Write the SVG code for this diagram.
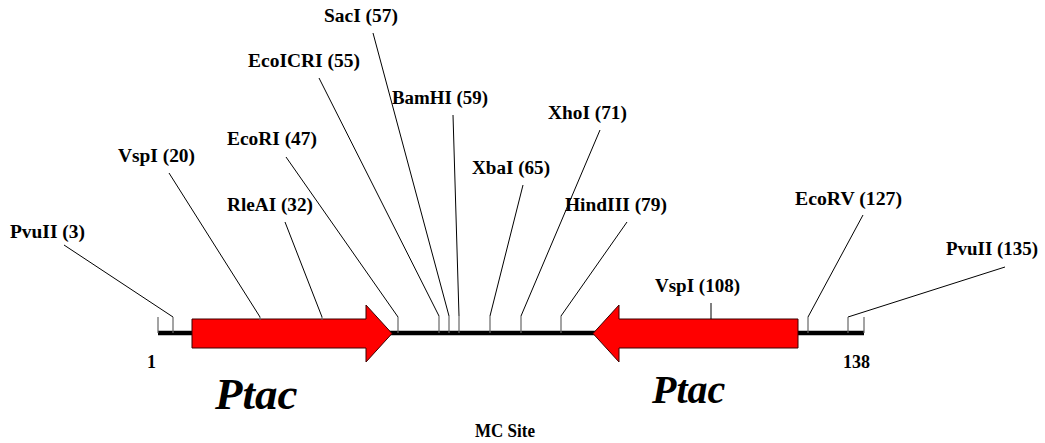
<svg xmlns="http://www.w3.org/2000/svg" width="1045" height="443" viewBox="0 0 1045 443">
<style>
.lbl{font-family:"Liberation Serif","Times New Roman",serif;font-weight:bold;font-size:18px;fill:#000}
.ptac{font-family:"Liberation Serif","Times New Roman",serif;font-weight:bold;font-style:italic;fill:#000}
.conn{fill:none;stroke:#000;stroke-width:1}
.tick{fill:none;stroke:#666;stroke-width:1.2}
.arrow{fill:#ff0000;stroke:#3a0000;stroke-width:1}
</style>
<rect width="1045" height="443" fill="#fff"/>
<g id="backbone">
<line x1="158" y1="333" x2="864" y2="333" stroke="#000" stroke-width="4.5"/>
<line class="tick" x1="158" y1="317" x2="158" y2="333"/>
<line class="tick" x1="864" y1="317" x2="864" y2="333"/>
</g>
<g id="ptac-left">
<polygon class="arrow" points="192,319 366,319 366,305 392,333.5 366,362 366,348 192,348"/>
<text class="ptac" x="215" y="409" font-size="45">Ptac</text>
</g>
<g id="ptac-right">
<polygon class="arrow" points="798,319 619,319 619,305 593,333.5 619,362 619,348 798,348"/>
<text class="ptac" x="652" y="403" font-size="40">Ptac</text>
</g>
<g id="connectors">
<polyline class="conn" points="64,245 173,317"/><line class="tick" x1="173" y1="317" x2="173" y2="333"/>
<polyline class="conn" points="169,173 260,317"/><line class="tick" x1="260" y1="317" x2="260" y2="320"/>
<polyline class="conn" points="285,222 322,317"/><line class="tick" x1="322" y1="317" x2="322" y2="320"/>
<polyline class="conn" points="286,157 398,317"/><line class="tick" x1="398" y1="317" x2="398" y2="333"/>
<polyline class="conn" points="319,78 439,316"/><line class="tick" x1="439" y1="316" x2="439" y2="333"/>
<polyline class="conn" points="373,33 449,316"/><line class="tick" x1="449" y1="316" x2="449" y2="333"/>
<polyline class="conn" points="453,115 459,316"/><line class="tick" x1="459" y1="316" x2="459" y2="333"/>
<polyline class="conn" points="523,185 490,316"/><line class="tick" x1="490" y1="316" x2="490" y2="333"/>
<polyline class="conn" points="600,130 521,316"/><line class="tick" x1="521" y1="316" x2="521" y2="333"/>
<polyline class="conn" points="627,222 561,316"/><line class="tick" x1="561" y1="316" x2="561" y2="333"/>
<polyline class="conn" points="711,303 711,319"/>
<polyline class="conn" points="863,215 808,317"/><line class="tick" x1="808" y1="317" x2="808" y2="333"/>
<polyline class="conn" points="1005,267 848,317"/><line class="tick" x1="848" y1="317" x2="848" y2="333"/>
</g>
<g id="site-pvuII-3"><text class="lbl" x="10" y="238" textLength="75" lengthAdjust="spacingAndGlyphs">PvuII (3)</text></g>
<g id="site-vspI-20"><text class="lbl" x="118" y="162" textLength="77" lengthAdjust="spacingAndGlyphs">VspI (20)</text></g>
<g id="site-rleAI-32"><text class="lbl" x="227" y="211" textLength="86" lengthAdjust="spacingAndGlyphs">RleAI (32)</text></g>
<g id="site-ecoRI-47"><text class="lbl" x="227" y="145" textLength="90" lengthAdjust="spacingAndGlyphs">EcoRI (47)</text></g>
<g id="site-ecoICRI-55"><text class="lbl" x="248" y="67" textLength="112" lengthAdjust="spacingAndGlyphs">EcoICRI (55)</text></g>
<g id="site-sacI-57"><text class="lbl" x="324" y="22" textLength="74" lengthAdjust="spacingAndGlyphs">SacI (57)</text></g>
<g id="site-bamHI-59"><text class="lbl" x="392" y="104" textLength="96" lengthAdjust="spacingAndGlyphs">BamHI (59)</text></g>
<g id="site-xbaI-65"><text class="lbl" x="472" y="174" textLength="78" lengthAdjust="spacingAndGlyphs">XbaI (65)</text></g>
<g id="site-xhoI-71"><text class="lbl" x="548" y="119" textLength="79" lengthAdjust="spacingAndGlyphs">XhoI (71)</text></g>
<g id="site-hindIII-79"><text class="lbl" x="565" y="211" textLength="102" lengthAdjust="spacingAndGlyphs">HindIII (79)</text></g>
<g id="site-vspI-108"><text class="lbl" x="655" y="292" textLength="85" lengthAdjust="spacingAndGlyphs">VspI (108)</text></g>
<g id="site-ecoRV-127"><text class="lbl" x="795" y="205" textLength="107" lengthAdjust="spacingAndGlyphs">EcoRV (127)</text></g>
<g id="site-pvuII-135"><text class="lbl" x="946" y="255" textLength="92" lengthAdjust="spacingAndGlyphs">PvuII (135)</text></g>
<g id="pos-1"><text class="lbl" x="147" y="368">1</text></g>
<g id="pos-138"><text class="lbl" x="843" y="368">138</text></g>
<g id="mc-site"><text class="lbl" x="475" y="437" font-size="17" textLength="60" lengthAdjust="spacingAndGlyphs">MC Site</text></g>
</svg>
